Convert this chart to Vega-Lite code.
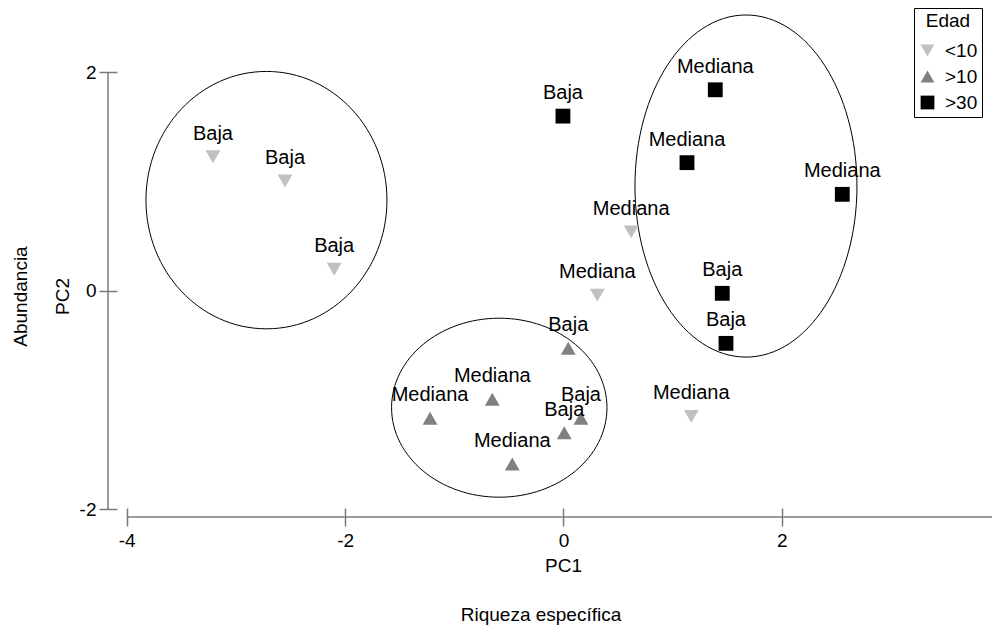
{
  "$schema": "https://vega.github.io/schema/vega-lite/v6.json",
  "width": 884,
  "height": 505,
  "autosize": {"type": "none"},
  "padding": {"left": 108, "top": 12, "right": 0, "bottom": 110},
  "background": "white",
  "config": {
    "view": {"stroke": null},
    "font": "Liberation Sans",
    "axis": {"grid": false}
  },
  "title": {
    "text": "Riqueza específica",
    "orient": "bottom",
    "anchor": "middle",
    "frame": "group",
    "dx": -9,
    "offset": 31,
    "fontSize": 19,
    "fontWeight": "normal",
    "color": "black",
    "font": "Liberation Sans"
  },
  "datasets": {
    "puntos": [
      {"edad": "<10", "etiqueta": "Baja", "x": -3.21, "y": 1.227},
      {"edad": "<10", "etiqueta": "Baja", "x": -2.55, "y": 1.005},
      {"edad": "<10", "etiqueta": "Baja", "x": -2.10, "y": 0.197},
      {"edad": "<10", "etiqueta": "Mediana", "x": 0.62, "y": 0.54},
      {"edad": "<10", "etiqueta": "Mediana", "x": 0.31, "y": -0.04},
      {"edad": "<10", "etiqueta": "Mediana", "x": 1.17, "y": -1.15},
      {"edad": ">10", "etiqueta": "Baja", "x": 0.044, "y": -0.526},
      {"edad": ">10", "etiqueta": "Mediana", "x": -1.222, "y": -1.167},
      {"edad": ">10", "etiqueta": "Mediana", "x": -0.652, "y": -0.993},
      {"edad": ">10", "etiqueta": "Mediana", "x": -0.469, "y": -1.585},
      {"edad": ">10", "etiqueta": "Baja", "x": 0.160, "y": -1.167},
      {"edad": ">10", "etiqueta": "Baja", "x": 0.007, "y": -1.299},
      {"edad": ">30", "etiqueta": "Baja", "x": -0.005, "y": 1.599},
      {"edad": ">30", "etiqueta": "Mediana", "x": 1.39, "y": 1.84},
      {"edad": ">30", "etiqueta": "Mediana", "x": 1.131, "y": 1.173},
      {"edad": ">30", "etiqueta": "Mediana", "x": 2.553, "y": 0.883},
      {"edad": ">30", "etiqueta": "Baja", "x": 1.454, "y": -0.023},
      {"edad": ">30", "etiqueta": "Baja", "x": 1.488, "y": -0.481}
    ],
    "elipses": [
      {"grupo": "A", "cx": -2.72, "cy": 0.83},
      {"grupo": "B", "cx": -0.588, "cy": -1.07},
      {"grupo": "C", "cx": 1.671, "cy": 0.959}
    ],
    "ejes": [
      {"eje": "y", "x": -4.171, "x2": -4.171, "y": -2, "y2": 2},
      {"eje": "x", "x": -4, "x2": 3.924, "y": -2.0705, "y2": -2.0705}
    ]
  },
  "layer": [
    {
      "mark": {"type": "rule", "color": "#404040", "strokeWidth": 1},
      "encoding": {
        "y": {"datum": 0, "type": "quantitative", "scale": {"domain": [-2.0705, 2.552], "nice": false, "zero": false}}
      }
    },
    {
      "mark": {"type": "rule", "color": "#404040", "strokeWidth": 1},
      "encoding": {
        "x": {"datum": 0, "type": "quantitative", "scale": {"domain": [-4.171, 3.924], "nice": false, "zero": false}}
      }
    },
    {
      "data": {"name": "ejes"},
      "mark": {"type": "rule", "color": "#7a7a7a", "strokeWidth": 1.5},
      "encoding": {
        "x": {"field": "x", "type": "quantitative", "scale": {"domain": [-4.171, 3.924], "nice": false, "zero": false}},
        "x2": {"field": "x2"},
        "y": {"field": "y", "type": "quantitative", "scale": {"domain": [-2.0705, 2.552], "nice": false, "zero": false}},
        "y2": {"field": "y2"}
      }
    },
    {
      "data": {"name": "elipses"},
      "transform": [{"filter": "datum.grupo === 'A'"}],
      "mark": {
        "type": "point",
        "shape": "M1,0C1,0.5898 0.5523,1.068 0,1.068C-0.5523,1.068 -1,0.5898 -1,0C-1,-0.5898 -0.5523,-1.068 0,-1.068C0.5523,-1.068 1,-0.5898 1,0Z",
        "size": 58081,
        "filled": false,
        "stroke": "black",
        "strokeWidth": 1,
        "opacity": 1
      },
      "encoding": {
        "x": {"field": "cx", "type": "quantitative", "scale": {"domain": [-4.171, 3.924], "nice": false, "zero": false}},
        "y": {"field": "cy", "type": "quantitative", "scale": {"domain": [-2.0705, 2.552], "nice": false, "zero": false}}
      }
    },
    {
      "data": {"name": "elipses"},
      "transform": [{"filter": "datum.grupo === 'B'"}],
      "mark": {
        "type": "point",
        "shape": "M1,0C1,0.4589 0.5523,0.831 0,0.831C-0.5523,0.831 -1,0.4589 -1,0C-1,-0.4589 -0.5523,-0.831 0,-0.831C0.5523,-0.831 1,-0.4589 1,0Z",
        "size": 46397,
        "filled": false,
        "stroke": "black",
        "strokeWidth": 1,
        "opacity": 1
      },
      "encoding": {
        "x": {"field": "cx", "type": "quantitative", "scale": {"domain": [-4.171, 3.924], "nice": false, "zero": false}},
        "y": {"field": "cy", "type": "quantitative", "scale": {"domain": [-2.0705, 2.552], "nice": false, "zero": false}}
      }
    },
    {
      "data": {"name": "elipses"},
      "transform": [{"filter": "datum.grupo === 'C'"}],
      "mark": {
        "type": "point",
        "shape": "M1,0C1,0.8511 0.5523,1.541 0,1.541C-0.5523,1.541 -1,0.8511 -1,0C-1,-0.8511 -0.5523,-1.541 0,-1.541C0.5523,-1.541 1,-0.8511 1,0Z",
        "size": 49284,
        "filled": false,
        "stroke": "black",
        "strokeWidth": 1,
        "opacity": 1
      },
      "encoding": {
        "x": {"field": "cx", "type": "quantitative", "scale": {"domain": [-4.171, 3.924], "nice": false, "zero": false}},
        "y": {"field": "cy", "type": "quantitative", "scale": {"domain": [-2.0705, 2.552], "nice": false, "zero": false}}
      }
    },
    {
      "data": {"name": "puntos"},
      "mark": {"type": "point", "filled": true, "size": 220, "opacity": 1},
      "encoding": {
        "x": {
          "field": "x",
          "type": "quantitative",
          "scale": {"domain": [-4.171, 3.924], "nice": false, "zero": false},
          "title": "PC1",
          "axis": {
            "values": [-4, -2, 0, 2],
            "labelExpr": "'' + datum.value",
            "offset": -9,
            "tickSize": 18,
            "domain": false,
            "tickColor": "#7a7a7a",
            "tickWidth": 1.5,
            "labelFontSize": 19,
            "labelColor": "black",
            "labelPadding": 5,
            "labelFont": "Liberation Sans",
            "titleFont": "Liberation Sans",
            "titleFontSize": 19,
            "titleFontWeight": "normal",
            "titleColor": "black",
            "titleX": 455,
            "titleY": 57,
            "titleAlign": "center",
            "titleBaseline": "middle",
            "grid": false
          }
        },
        "y": {
          "field": "y",
          "type": "quantitative",
          "scale": {"domain": [-2.0705, 2.552], "nice": false, "zero": false},
          "title": ["Abundancia", "PC2"],
          "axis": {
            "values": [-2, 0, 2],
            "labelExpr": "'' + datum.value",
            "offset": -9,
            "tickSize": 18,
            "domain": false,
            "tickColor": "#7a7a7a",
            "tickWidth": 1.5,
            "labelFontSize": 19,
            "labelColor": "black",
            "labelPadding": 3,
            "labelFont": "Liberation Sans",
            "titleFont": "Liberation Sans",
            "titleFontSize": 19,
            "titleFontWeight": "normal",
            "titleColor": "black",
            "titleAngle": 270,
            "titleX": -97,
            "titleY": 284,
            "titleAlign": "center",
            "titleBaseline": "middle",
            "titleLineHeight": 42,
            "grid": false
          }
        },
        "color": {
          "field": "edad",
          "type": "nominal",
          "scale": {"domain": ["<10", ">10", ">30"], "range": ["#c0c0c0", "#808080", "#000000"]},
          "legend": {
            "title": "Edad",
            "orient": "none",
            "legendX": 806,
            "legendY": -4,
            "strokeColor": "black",
            "fillColor": "white",
            "padding": 4,
            "titleFontSize": 19,
            "titleFontWeight": "normal",
            "titleColor": "black",
            "titleFont": "Liberation Sans",
            "titleAnchor": "middle",
            "titlePadding": 10,
            "labelFontSize": 19,
            "labelColor": "black",
            "labelFont": "Liberation Sans",
            "labelOffset": 8,
            "rowPadding": 6,
            "symbolSize": 190,
            "symbolStrokeWidth": 0
          }
        },
        "shape": {
          "field": "edad",
          "type": "nominal",
          "scale": {"domain": ["<10", ">10", ">30"], "range": ["triangle-down", "triangle-up", "square"]},
          "legend": {"title": "Edad"}
        }
      }
    },
    {
      "data": {"name": "puntos"},
      "mark": {"type": "text", "fontSize": 20, "font": "Liberation Sans", "dy": -17, "baseline": "alphabetic", "color": "black"},
      "encoding": {
        "x": {"field": "x", "type": "quantitative", "scale": {"domain": [-4.171, 3.924], "nice": false, "zero": false}},
        "y": {"field": "y", "type": "quantitative", "scale": {"domain": [-2.0705, 2.552], "nice": false, "zero": false}},
        "text": {"field": "etiqueta", "type": "nominal"}
      }
    }
  ]
}
